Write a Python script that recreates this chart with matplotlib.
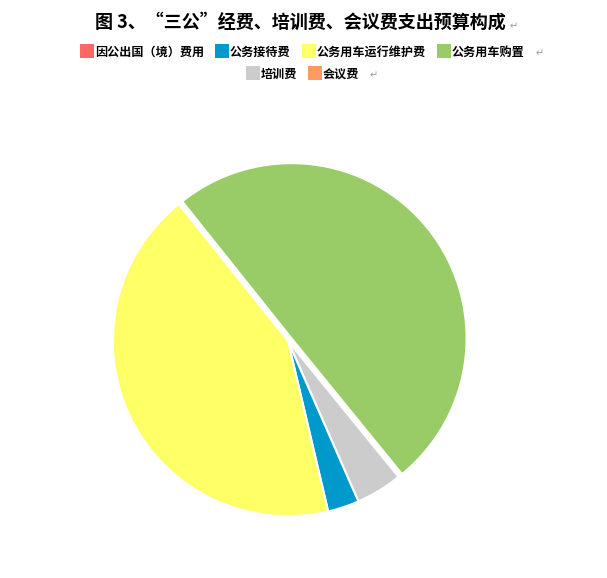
import matplotlib
matplotlib.use("Agg")
import matplotlib.pyplot as plt
from matplotlib.patches import Rectangle

plt.rcParams['font.family'] = ['Noto Sans CJK SC', 'DejaVu Sans']

# data (percent shares)
categories = ["因公出国（境）费用", "公务接待费", "公务用车运行维护费", "公务用车购置", "培训费", "会议费"]
shares = [0.0, 2.9, 43.0, 49.9, 4.3, 0.0]
colors = ["#FF6666", "#0099CC", "#FFFF66", "#99CC66", "#CCCCCC", "#FF9966"]

# slices are drawn clockwise in this order
draw_order = [3, 4, 1, 2]
start_angle = 128.6

fig = plt.figure(figsize=(6.07, 5.78), dpi=100)

# axes sized so the pie radius is ~176 px, centred at (288, 341)
ax = fig.add_axes([0.1265, 0.0446, 0.696, 0.7308])
vals = [shares[i] for i in draw_order]
cols = [colors[i] for i in draw_order]
expl = [0.025 if categories[i] == "公务用车购置" else 0 for i in draw_order]
ax.pie(vals, colors=cols, startangle=start_angle, counterclock=False,
       explode=expl, radius=0.995,
       wedgeprops=dict(edgecolor="white", linewidth=1.5))
ax.set_xlim(-1.2, 1.2)
ax.set_ylim(-1.2, 1.2)
ax.set_aspect("equal")
ax.axis("off")

W, H = 607, 578


def px(x, y):
    return x / W, 1 - y / H


# title
fig.text(*px(300, 22), "图 3、“三公”经费、培训费、会议费支出预算构成",
         ha="center", va="center", fontsize=13, fontweight="bold")
fig.text(*px(514, 26), "↵", ha="center", va="center", fontsize=7, color="#999999")

# legend, two rows like the Word original
legend_rows = [[0, 1, 2, 3], [4, 5]]
row_pos = {0: (80, 51), 1: (215, 51), 2: (302, 51), 3: (437, 51),
           4: (246, 73), 5: (308, 73)}
for row in legend_rows:
    for i in row:
        x, y = row_pos[i]
        fx, fy = px(x, y + 7)
        fig.patches.append(Rectangle((fx, fy), 14 / W, 14 / H, transform=fig.transFigure,
                                     facecolor=colors[i], edgecolor="none"))
        fig.text(*px(x + 15, y + 1), categories[i], ha="left", va="center",
                 fontsize=8.7, fontweight="bold")
fig.text(*px(540, 53), "↵", ha="center", va="center", fontsize=7, color="#999999")
fig.text(*px(374, 75), "↵", ha="center", va="center", fontsize=7, color="#999999")

fig.savefig("out.png", dpi=100)
